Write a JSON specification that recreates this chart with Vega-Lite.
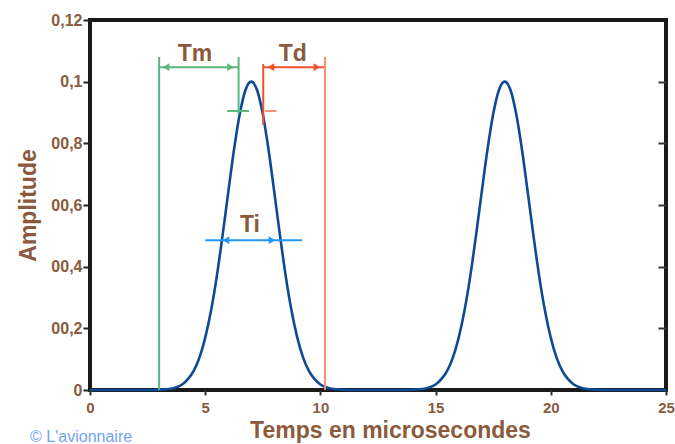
{
  "$schema": "https://vega.github.io/schema/vega-lite/v6.json",
  "width": 576,
  "height": 370,
  "autosize": {"type": "none"},
  "padding": {"left": 90, "top": 20, "right": 9, "bottom": 54},
  "background": "white",
  "config": {
    "view": {"stroke": "#1a1a1a", "strokeWidth": 4},
    "font": "Liberation Sans"
  },
  "datasets": {
    "curve": [
      {"t": 0, "a": 0}, {"t": 2.5, "a": 0}, {"t": 3, "a": 0.0001}, {"t": 3.5, "a": 0.0004},
      {"t": 3.75, "a": 0.0009}, {"t": 4, "a": 0.0018}, {"t": 4.25, "a": 0.0035}, {"t": 4.5, "a": 0.0062},
      {"t": 4.75, "a": 0.0105}, {"t": 5, "a": 0.0169}, {"t": 5.25, "a": 0.0256}, {"t": 5.5, "a": 0.0367},
      {"t": 5.75, "a": 0.0499}, {"t": 6, "a": 0.0641}, {"t": 6.25, "a": 0.0779}, {"t": 6.5, "a": 0.0895},
      {"t": 6.75, "a": 0.0973}, {"t": 7, "a": 0.1}, {"t": 7.25, "a": 0.0973}, {"t": 7.5, "a": 0.0895},
      {"t": 7.75, "a": 0.0779}, {"t": 8, "a": 0.0641}, {"t": 8.25, "a": 0.0499}, {"t": 8.5, "a": 0.0367},
      {"t": 8.75, "a": 0.0256}, {"t": 9, "a": 0.0169}, {"t": 9.25, "a": 0.0105}, {"t": 9.5, "a": 0.0062},
      {"t": 9.75, "a": 0.0035}, {"t": 10, "a": 0.0018}, {"t": 10.25, "a": 0.0009}, {"t": 10.5, "a": 0.0004},
      {"t": 11, "a": 0.0001}, {"t": 11.5, "a": 0}, {"t": 13.5, "a": 0}, {"t": 14, "a": 0.0001},
      {"t": 14.5, "a": 0.0004}, {"t": 14.75, "a": 0.0009}, {"t": 15, "a": 0.0018}, {"t": 15.25, "a": 0.0035},
      {"t": 15.5, "a": 0.0062}, {"t": 15.75, "a": 0.0105}, {"t": 16, "a": 0.0169}, {"t": 16.25, "a": 0.0256},
      {"t": 16.5, "a": 0.0367}, {"t": 16.75, "a": 0.0499}, {"t": 17, "a": 0.0641}, {"t": 17.25, "a": 0.0779},
      {"t": 17.5, "a": 0.0895}, {"t": 17.75, "a": 0.0973}, {"t": 18, "a": 0.1}, {"t": 18.25, "a": 0.0973},
      {"t": 18.5, "a": 0.0895}, {"t": 18.75, "a": 0.0779}, {"t": 19, "a": 0.0641}, {"t": 19.25, "a": 0.0499},
      {"t": 19.5, "a": 0.0367}, {"t": 19.75, "a": 0.0256}, {"t": 20, "a": 0.0169}, {"t": 20.25, "a": 0.0105},
      {"t": 20.5, "a": 0.0062}, {"t": 20.75, "a": 0.0035}, {"t": 21, "a": 0.0018}, {"t": 21.25, "a": 0.0009},
      {"t": 21.5, "a": 0.0004}, {"t": 22, "a": 0.0001}, {"t": 22.5, "a": 0}, {"t": 25, "a": 0}
    ],
    "segments": [
      {"g": "Tm", "x": 3, "x2": 3, "y": 0, "y2": 0.108},
      {"g": "Tm", "x": 6.45, "x2": 6.45, "y": 0.0895, "y2": 0.108},
      {"g": "Tm", "x": 3, "x2": 6.45, "y": 0.1047, "y2": 0.1047},
      {"g": "Tm", "x": 5.95, "x2": 6.9, "y": 0.0905, "y2": 0.0905},
      {"g": "Td", "x": 7.52, "x2": 7.52, "y": 0.086, "y2": 0.1057},
      {"g": "Td", "x": 7.52, "x2": 10.2, "y": 0.1047, "y2": 0.1047},
      {"g": "Tdl", "x": 10.2, "x2": 10.2, "y": 0, "y2": 0.108},
      {"g": "Tdl", "x": 7.6, "x2": 8.1, "y": 0.0905, "y2": 0.0905},
      {"g": "Ti", "x": 5.0, "x2": 9.2, "y": 0.0486, "y2": 0.0486}
    ],
    "heads": [
      {"g": "Tm", "x": 3.3, "y": 0.1047, "d": "L"},
      {"g": "Tm", "x": 6.1, "y": 0.1047, "d": "R"},
      {"g": "Td", "x": 7.85, "y": 0.1047, "d": "L"},
      {"g": "Td", "x": 9.85, "y": 0.1047, "d": "R"},
      {"g": "Ti", "x": 5.9, "y": 0.0486, "d": "L"},
      {"g": "Ti", "x": 7.9, "y": 0.0486, "d": "R"}
    ],
    "labels": [
      {"x": 4.56, "y": 0.109, "txt": "Tm"},
      {"x": 8.8, "y": 0.109, "txt": "Td"},
      {"x": 6.94, "y": 0.0535, "txt": "Ti"}
    ],
    "credit": [
      {"x": -2.6, "y": -0.0152, "txt": "© L'avionnaire"}
    ]
  },
  "resolve": {"axis": {"y": "independent"}},
  "layer": [
    {
      "data": {"name": "curve"},
      "mark": {"type": "line", "color": "#0d4a93", "strokeWidth": 2.6, "interpolate": "monotone"},
      "encoding": {
        "x": {
          "field": "t", "type": "quantitative",
          "scale": {"domain": [0, 25], "nice": false},
          "axis": {
            "values": [0, 5, 10, 15, 20, 25],
            "grid": false, "domain": false,
            "tickSize": 5, "tickWidth": 2, "tickColor": "#333",
            "labelPadding": 5,
            "labelFont": "Liberation Sans", "labelFontWeight": "bold", "labelFontSize": 15,
            "labelColor": "#8b5a3c",
            "labelFlush": false,
            "title": "Temps en microsecondes",
            "titleFont": "Liberation Sans", "titleFontWeight": "bold", "titleFontSize": 23,
            "titleColor": "#8b5a3c", "titlePadding": 4, "titleX": 300
          }
        },
        "y": {
          "field": "a", "type": "quantitative",
          "scale": {"domain": [0, 0.12], "nice": false},
          "axis": {
            "values": [0, 0.02, 0.04, 0.06, 0.08, 0.1, 0.12],
            "labelExpr": "datum.value == 0 ? '0' : datum.value > 0.11 ? '0,12' : datum.value > 0.09 ? '0,1' : '00,' + round(datum.value * 100)",
            "grid": false, "domain": false,
            "tickSize": 7, "tickWidth": 2, "tickColor": "#222",
            "labelPadding": 1,
            "labelFont": "Liberation Sans", "labelFontWeight": "bold", "labelFontSize": 16,
            "labelColor": "#8b5a3c",
            "labelFlush": false,
            "title": "Amplitude",
            "titleFont": "Liberation Sans", "titleFontWeight": "bold", "titleFontSize": 23,
            "titleColor": "#8b5a3c", "titlePadding": 10
          }
        }
      }
    },
    {
      "data": {"name": "segments"},
      "mark": {"type": "rule", "strokeWidth": 2},
      "encoding": {
        "x": {"field": "x", "type": "quantitative"},
        "x2": {"field": "x2"},
        "y": {
          "field": "y", "type": "quantitative",
          "axis": {
            "orient": "right", "values": [0.02, 0.04, 0.06, 0.08, 0.1],
            "labels": false, "domain": false, "grid": false, "title": null,
            "tickSize": -8, "tickWidth": 2, "tickColor": "#333"
          }
        },
        "y2": {"field": "y2"},
        "color": {
          "field": "g", "type": "nominal", "legend": null,
          "scale": {"domain": ["Tm", "Td", "Tdl", "Ti"], "range": ["#5cb87a", "#f0502c", "#f7907a", "#2196f3"]}
        }
      }
    },
    {
      "data": {"name": "heads"},
      "mark": {"type": "point", "filled": true, "opacity": 1, "size": 60},
      "encoding": {
        "x": {"field": "x", "type": "quantitative"},
        "y": {"field": "y", "type": "quantitative", "axis": null},
        "shape": {
          "field": "d", "type": "nominal", "legend": null,
          "scale": {"domain": ["L", "R"], "range": ["triangle-left", "triangle-right"]}
        },
        "color": {
          "field": "g", "type": "nominal", "legend": null,
          "scale": {"domain": ["Tm", "Td", "Tdl", "Ti"], "range": ["#5cb87a", "#f0502c", "#f7907a", "#2196f3"]}
        }
      }
    },
    {
      "data": {"name": "labels"},
      "mark": {"type": "text", "font": "Liberation Sans", "fontWeight": "bold", "fontSize": 23, "color": "#8b5a3c", "baseline": "middle", "align": "center"},
      "encoding": {
        "x": {"field": "x", "type": "quantitative"},
        "y": {"field": "y", "type": "quantitative", "axis": null},
        "text": {"field": "txt"}
      }
    },
    {
      "data": {"name": "credit"},
      "mark": {"type": "text", "font": "Liberation Sans", "fontSize": 16, "color": "#72a4f2", "baseline": "middle", "align": "left", "clip": false},
      "encoding": {
        "x": {"field": "x", "type": "quantitative"},
        "y": {"field": "y", "type": "quantitative", "axis": null},
        "text": {"field": "txt"}
      }
    }
  ]
}
